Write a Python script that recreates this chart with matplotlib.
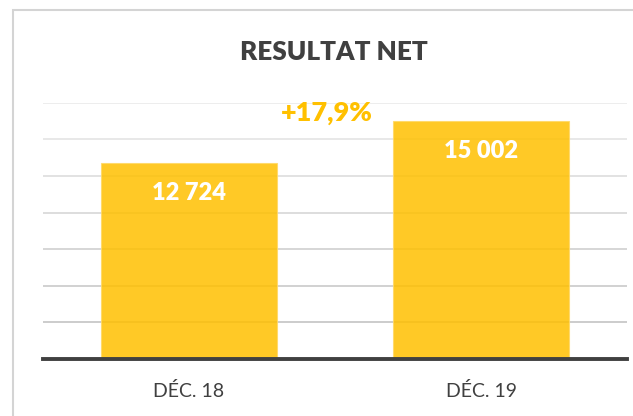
import matplotlib
matplotlib.use("Agg")
import matplotlib.pyplot as plt
from matplotlib.patches import Rectangle
import numpy as np

categories = ["DÉC. 18", "DÉC. 19"]
values = [12724, 15002]
value_labels = ["12 724", "15 002"]
growth_label = "+17,9%"
title = "RESULTAT NET"
y_min, y_max, y_step = 2000, 16000, 2000

W, H = 633, 416
fig = plt.figure(figsize=(W / 100, H / 100), dpi=100)
font = ["Lato", "DejaVu Sans"]

ax = fig.add_axes([43 / W, 57 / H, 584 / W, (313.3 - 57) / H])
x = np.arange(len(categories))
bars = ax.bar(x, values, width=0.603, color="#FFC000", alpha=0.85,
              edgecolor="#FFD966", linewidth=0.8, zorder=2)
ax.set_xlim(-0.5, 1.5)
ax.set_ylim(y_min, y_max)
ax.set_yticks(np.arange(y_min, y_max + 1, y_step))
ax.yaxis.grid(True, linewidth=1.1, zorder=0)
ax.set_axisbelow(True)
glines = ax.get_ygridlines()
n = len(glines)
for i, gl in enumerate(glines):
    t = i / max(n - 1, 1)
    c = 0.72 + 0.19 * t
    gl.set_color((c, c, c))
ax.tick_params(axis="y", left=False, labelleft=False)
ax.tick_params(axis="x", bottom=False, pad=13)
ax.set_xticks(x)
ax.set_xticklabels(categories, fontsize=14, color="#404040", fontfamily=font)
for s in ["top", "right", "left"]:
    ax.spines[s].set_visible(False)
ax.spines["bottom"].set_color("#404040")
ax.spines["bottom"].set_linewidth(2.8)
ax.spines["bottom"].set_zorder(3)

for b, lab in zip(bars, value_labels):
    ax.annotate(lab, (b.get_x() + b.get_width() / 2, b.get_height()),
                xytext=(0, -21.5), textcoords="offset points",
                ha="center", va="center", color="white", fontsize=17,
                fontweight="heavy", fontfamily=font, zorder=4)

ax.text(0.486, 0.958, growth_label, transform=ax.transAxes, ha="center",
        va="center", color="#FFC000", fontsize=19.5, fontweight="heavy",
        fontfamily=font)

fig.text(334 / W, 1 - 52 / H, title, ha="center", va="center",
         color="#404040", fontsize=18.8, fontweight="heavy", fontfamily=font)

fig.add_artist(Rectangle((13 / W, -0.1), 1.0, (H - 10) / H + 0.1,
                         transform=fig.transFigure, fill=False,
                         edgecolor="#d4d4d4", linewidth=1.5))

fig.savefig("out.png", dpi=100)
